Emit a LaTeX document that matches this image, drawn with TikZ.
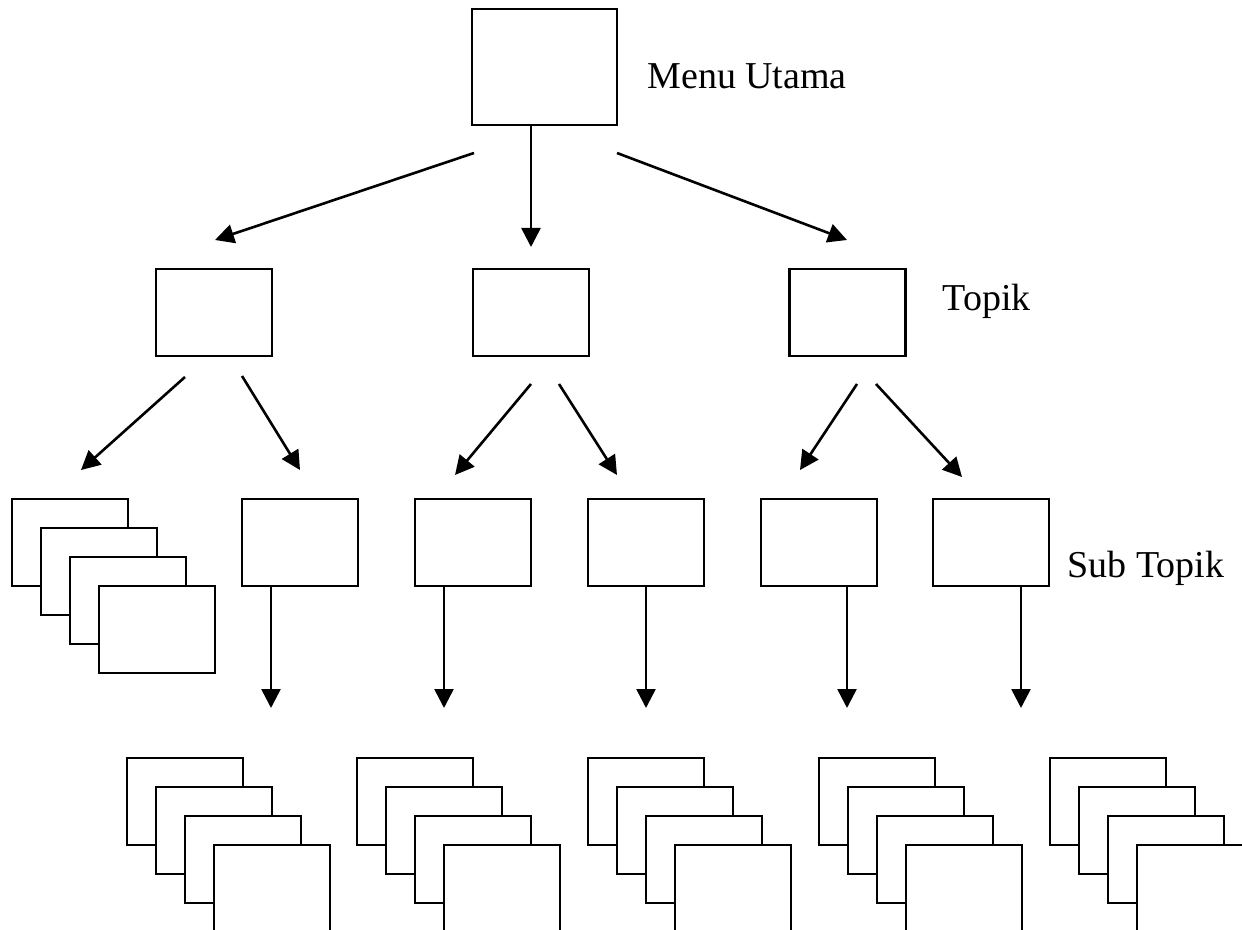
\documentclass[tikz,border=0pt]{standalone}
\usepackage{fontspec}
\setmainfont{Liberation Serif}
\usetikzlibrary{arrows.meta}
\begin{document}
\begin{tikzpicture}[x=0.5pt,y=-0.5pt,
  box/.style={draw=black, fill=white, line width=1.1pt, rectangle, inner sep=0pt, outer sep=0pt, minimum width=58pt, minimum height=43.5pt},
  bigbox/.style={box, minimum width=72.5pt, minimum height=58pt},
  conn/.style={line width=1.3pt, -{Triangle[length=9.5pt,width=9.5pt]}},
  lbl/.style={font=\fontsize{19}{22}\selectfont, anchor=base west, inner sep=0pt}]
\useasboundingbox (0,0) rectangle (1242,930);
\begin{scope}
\clip (0,0) rectangle (1242,930);
% main menu
\node[bigbox] (main) at (544.5,67) {};
\node[lbl] (lmain) at (647,89) {Menu Utama};
% topics
\node[box] (tA) at (214,312.5) {};
\node[box] (tB) at (531,312.5) {};
\node[box] (tC) at (847.5,312.5) {};
\node[lbl] (ltopik) at (942,311) {Topik};
% main arrows
\coordinate (mA0) at (474,153); \coordinate (mA1) at (215,240);
\coordinate (mB0) at (531,125); \coordinate (mB1) at (531,247);
\coordinate (mC0) at (617,153); \coordinate (mC1) at (847,240);
\draw[conn] (mA0) -- (mA1);
\draw[conn] (mB0) -- (mB1);
\draw[conn] (mC0) -- (mC1);
% sub topics
\foreach \k in {0,...,3}
  \node[box] (s1-\k) at (70+29*\k,542.5+29*\k) {};
\node[box] (s2) at (300,542.5) {};
\node[box] (s3) at (473,542.5) {};
\node[box] (s4) at (646,542.5) {};
\node[box] (s5) at (819,542.5) {};
\node[box] (s6) at (991,542.5) {};
\node[lbl] (lsub) at (1067,577) {Sub Topik};
% topic arrows
\coordinate (a1s) at (185,377); \coordinate (a1e) at (81,470);
\coordinate (a2s) at (242,376); \coordinate (a2e) at (300,470);
\coordinate (a3s) at (531,384); \coordinate (a3e) at (455,475);
\coordinate (a4s) at (559,384); \coordinate (a4e) at (617,475);
\coordinate (a5s) at (857,384); \coordinate (a5e) at (800,470);
\coordinate (a6s) at (876,384); \coordinate (a6e) at (962,477);
\foreach \i in {1,...,6}
  \draw[conn] (a\i s) -- (a\i e);
% sub topic arrows
\foreach \n/\x in {2/271,3/444,4/646,5/847,6/1021}{
  \coordinate (d\n) at (\x,708);
  \draw[conn] (s\n.south -| d\n) -- (d\n);
}
% pages stacks
\foreach \s/\x in {1/127,2/357,3/588,4/819,5/1050}
  \foreach \k in {0,...,3}
    \node[box] (p\s-\k) at (\x+58+29*\k,801.5+29*\k) {};
\end{scope}
\end{tikzpicture}
\end{document}
